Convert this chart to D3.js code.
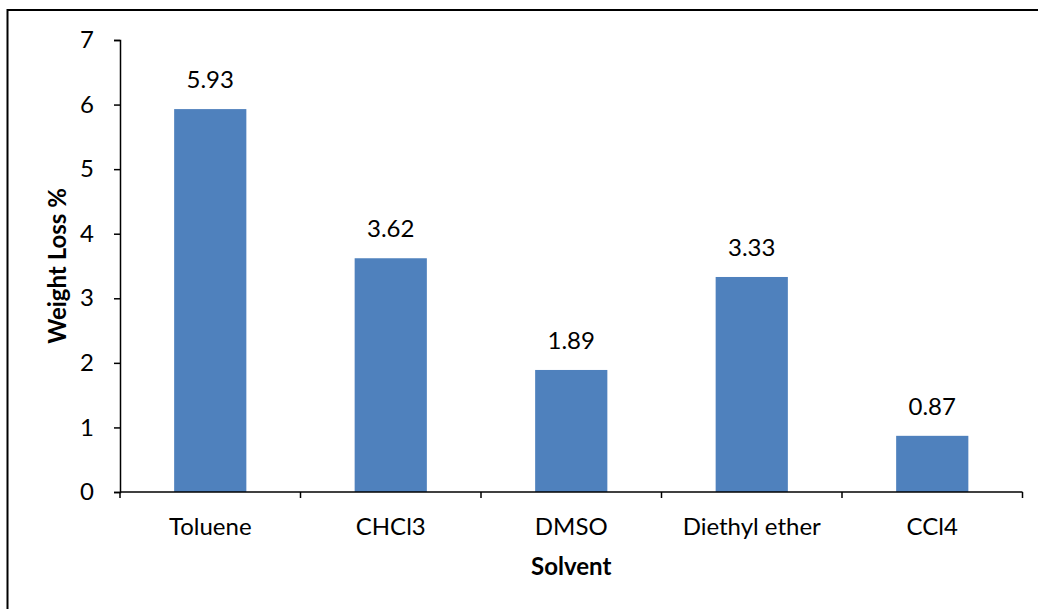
<!DOCTYPE html>
<html>
<head>
<meta charset="utf-8">
<script src="https://cdn.jsdelivr.net/npm/d3@7"></script>
<style>
  html, body { margin: 0; padding: 0; background: #fff; }
  svg { display: block; }
  text { font-family: Lato, "Open Sans", sans-serif; fill: #000; }
</style>
</head>
<body>
<script>
// Weight loss of the sample in each solvent
const solvents = ["Toluene", "CHCl3", "DMSO", "Diethyl ether", "CCl4"];
const weightLoss = [5.93, 3.62, 1.89, 3.33, 0.87];
const yTicks = [0, 1, 2, 3, 4, 5, 6, 7];

const W = 1038, H = 609;
const margin = { left: 120, right: 15.5, top: 40, bottom: 117 };
const FS = 24;

const svg = d3.select("body").append("svg")
  .attr("width", W).attr("height", H);

// outer frame
svg.append("rect")
  .attr("x", 7.5).attr("y", 10)
  .attr("width", W + 20).attr("height", H + 20)
  .attr("fill", "none").attr("stroke", "#000").attr("stroke-width", 2);

const x = d3.scaleBand()
  .domain(solvents)
  .range([margin.left, W - margin.right])
  .paddingInner(0.6).paddingOuter(0.3);

const y = d3.scaleLinear()
  .domain([0, 7])
  .range([H - margin.bottom, margin.top]);

// bars
svg.append("g").selectAll("rect")
  .data(solvents)
  .join("rect")
  .attr("x", d => x(d))
  .attr("width", x.bandwidth())
  .attr("y", (d, i) => y(weightLoss[i]))
  .attr("height", (d, i) => y(0) - y(weightLoss[i]))
  .attr("fill", "#4F81BD");

// value labels
svg.append("g").selectAll("text")
  .data(solvents)
  .join("text")
  .attr("x", d => x(d) + x.bandwidth() / 2)
  .attr("y", (d, i) => y(weightLoss[i]) - 21)
  .attr("text-anchor", "middle")
  .attr("font-size", FS)
  .text((d, i) => weightLoss[i].toFixed(2));

// y axis
const yAxis = svg.append("g")
  .attr("transform", `translate(${margin.left},0)`)
  .call(d3.axisLeft(y).tickValues(yTicks).tickSize(6).tickPadding(20).tickFormat(d3.format("d")));
yAxis.selectAll("path, line").attr("stroke", "#000").attr("stroke-width", 1.5);
yAxis.selectAll("text").attr("font-size", FS).attr("font-family", "Lato, sans-serif").attr("fill", "#000");

// x axis with boundary ticks between categories
const x0 = margin.left, x1 = W - margin.right;
const step = (x1 - x0) / solvents.length;
const xg = svg.append("g");
xg.append("line")
  .attr("x1", x0).attr("x2", x1)
  .attr("y1", y(0)).attr("y2", y(0))
  .attr("stroke", "#000").attr("stroke-width", 1.5);
xg.selectAll("line.tk")
  .data(d3.range(solvents.length + 1))
  .join("line")
  .attr("class", "tk")
  .attr("x1", i => x0 + i * step).attr("x2", i => x0 + i * step)
  .attr("y1", y(0)).attr("y2", y(0) + 6)
  .attr("stroke", "#000").attr("stroke-width", 1.5);
xg.selectAll("text")
  .data(solvents)
  .join("text")
  .attr("x", d => x(d) + x.bandwidth() / 2)
  .attr("y", y(0) + 43)
  .attr("text-anchor", "middle")
  .attr("font-size", FS)
  .text(d => d);

// axis titles
svg.append("text")
  .attr("x", (x0 + x1) / 2).attr("y", 575)
  .attr("text-anchor", "middle")
  .attr("font-size", FS).attr("font-weight", "bold")
  .text("Solvent");

svg.append("text")
  .attr("transform", `translate(66,${(y(0) + y(7)) / 2}) rotate(-90)`)
  .attr("text-anchor", "middle")
  .attr("font-size", FS).attr("font-weight", "bold")
  .text("Weight Loss %");
</script>
</body>
</html>
